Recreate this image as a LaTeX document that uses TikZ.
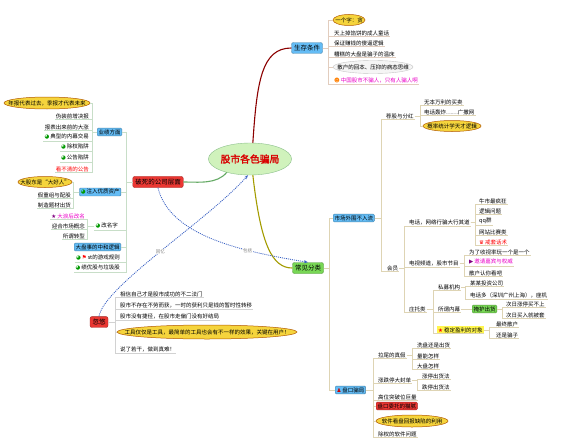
\documentclass[tikz,border=0pt]{standalone}
\usepackage{fontspec}
\setmainfont{Noto Sans CJK SC}[AutoFakeBold=2]
\newfontfamily\symfont{DejaVu Sans}
\usetikzlibrary{shapes.geometric, arrows.meta, positioning, calc}
\definecolor{mapblue}{RGB}{100,188,245}
\definecolor{mapred}{RGB}{235,55,50}
\definecolor{mapgreen}{RGB}{120,215,85}
\definecolor{mapyellow}{RGB}{245,212,60}
\definecolor{hubgreen}{RGB}{208,242,188}
\definecolor{rosetwig}{RGB}{226,205,190}
\definecolor{leaftwig}{RGB}{200,222,200}
\definecolor{tantwig}{RGB}{222,212,180}
\definecolor{dotblue}{RGB}{55,95,195}
\definecolor{hotpink}{RGB}{235,0,200}
\newcommand{\mapfont}{\fontsize{5.5}{6}\selectfont}
\newcommand{\bigmapfont}{\fontsize{6.5}{7}\selectfont}
\newcommand{\piemark}{{\symfont\textcolor{green!60!black}{◕}}\,}
\newcommand{\starmark}[1]{{\symfont\textcolor{#1}{★}}\,}
\newcommand{\crownmark}{{\symfont\textcolor{red}{♛}}\,}
\newcommand{\flagmark}{{\symfont\textcolor{red}{⚑}}\,}
\newcommand{\playmark}{{\symfont\textcolor{violet}{▶}}\,}
\newcommand{\smilemark}{{\symfont\textcolor{orange}{☻}}\,}
\newcommand{\usermark}{{\symfont\textcolor{red!80!black}{♟}}\,}

\begin{document}
\begin{tikzpicture}[x=1pt, y=-1pt,
    hub/.style={ellipse, draw=green!45!black!45, fill=hubgreen, text=red!85!black,
                font=\fontsize{9.8}{10}\selectfont\bfseries,
                minimum width=80pt, minimum height=32pt, inner sep=0pt},
    mainbox/.style={rectangle, rounded corners=2pt, draw=#1!70!black, fill=#1,
                    font=\bigmapfont, inner sep=2.5pt},
    subbox/.style={rectangle, rounded corners=1pt, draw=#1!70!black, fill=#1,
                   font=\mapfont, inner sep=1.3pt},
    leaf/.style={font=\mapfont, inner sep=1pt},
    ovalbg/.style={draw=orange!70!black, fill=mapyellow, line width=0.5pt},
    twig/.style={draw=#1, line width=0.6pt},
    branch/.style={draw=#1, line width=1.1pt},
    dotlink/.style={dotblue, line width=0.8pt, dash pattern=on 1pt off 1pt,
                    -{Stealth[length=4pt, open]}},
    linklbl/.style={font=\fontsize{4.5}{5}\selectfont, text=gray, fill=white, inner sep=0.5pt}]

\useasboundingbox[fill=white] (0,0) rectangle (572,444);

%% ── Centre ───────────────────────────────────────────────────────────────
\node[hub] (hub) at (250,159) {股市各色骗局};

%% ── Top branch ───────────────────────────────────────────────────────────
\node[mainbox=mapblue] (live) at (307,48) {生存条件};

\draw[ovalbg] (349,20) ellipse [x radius=16, y radius=5.5];
\node[leaf, minimum width=32pt] (live1) at (349,20) {一个字：贪};
\node[leaf, anchor=west] (live2) at (333,33) {天上掉馅饼的成人童话};
\node[leaf, anchor=west] (live3) at (333,43) {保证赚钱的傻逼逻辑};
\node[leaf, anchor=west] (live4) at (333,54) {糟糕的大盘是骗子的温床};
\draw[draw=gray!45, fill=gray!8] (373,67) ellipse [x radius=40, y radius=6.5];
\node[leaf, minimum width=80pt] (live5) at (373,67) {散户的回本、压抑的病态思维};
\node[leaf, anchor=west, text=hotpink] (live6) at (333,80)
    {\smilemark 中国股市不骗人，只有人骗人啊};

\draw[branch=red!55!black] (hub.80) .. controls +(4,-60) and +(-30,0) .. (live.west);
\foreach \c in {live1, live5}
  \draw[twig=rosetwig] (live.east) -- ++(6,0) |- (\c.west);
\foreach \c in {live2, live3, live4, live6}
  \draw[twig=rosetwig] (live.east) -- ++(6,0) |- (\c.south west) -- (\c.south east);

%% ── Left branch ──────────────────────────────────────────────────────────
\node[mainbox=mapred] (firm) at (158,182) {破死的公司层面};
\node[subbox=mapblue, anchor=east] (perf) at (122,132) {业绩方面};
\node[subbox=mapblue, anchor=east] (asset) at (121,192) {\piemark 注入优质资产};
\node[leaf, anchor=east] (rename) at (119,226) {\piemark 改名字};
\node[subbox=mapblue, anchor=east] (logic) at (121,247) {大盘事的中和逻辑};
\node[leaf, anchor=east] (stgame) at (121,258) {\piemark\flagmark st的游戏规则};
\node[leaf, anchor=east] (grade) at (121,268) {\piemark 绩优股与垃圾股};

\draw[branch=green!45!black!60] (hub.210) .. controls +(-10,12) and +(15,0) .. (firm.east);
\foreach \c in {perf, asset, logic}
  \draw[twig=leaftwig] (firm.west) -- ++(-6,0) |- (\c.east);
\foreach \c in {rename, stgame, grade}
  \draw[twig=leaftwig] (firm.west) -- ++(-6,0) |- (\c.south east) -- (\c.south west);

% results
\draw[ovalbg] (47,103) ellipse [x radius=43, y radius=6];
\node[leaf, minimum width=86pt] (perf1) at (47,103) {年报代表过去，季报才代表未来};
\node[leaf, anchor=east] (perf2) at (90,116) {伪装前增决报};
\node[leaf, anchor=east] (perf3) at (90,127) {报表出来前的大涨};
\node[leaf, anchor=east] (perf4) at (90,137) {\piemark 典型的内幕交易};
\node[leaf, anchor=east] (perf5) at (90,147) {\piemark 除权陷阱};
\node[leaf, anchor=east] (perf6) at (90,158) {\piemark 公告陷阱};
\node[leaf, anchor=east, text=red] (perf7) at (90,169) {看不清的公告};
\draw[twig=leaftwig] (perf.west) -- ++(-5,0) |- (perf1.east);
\foreach \c in {perf2, perf3, perf4, perf5, perf6, perf7}
  \draw[twig=leaftwig] (perf.west) -- ++(-5,0) |- (\c.south east) -- (\c.south west);

% assets
\draw[ovalbg] (45,182) ellipse [x radius=27, y radius=5.5];
\node[leaf, minimum width=54pt] (asset1) at (45,182) {大股东是“大好人”};
\node[leaf, anchor=east] (asset2) at (72,195) {假重组与配股};
\node[leaf, anchor=east] (asset3) at (72,205) {制造题材出货};
\draw[twig=leaftwig] (asset.west) -- ++(-6,0) |- (asset1.east);
\foreach \c in {asset2, asset3}
  \draw[twig=leaftwig] (asset.west) -- ++(-6,0) |- (\c.south east) -- (\c.south west);

% renaming
\node[leaf, anchor=east, text=hotpink] (rename1) at (86,216) {\starmark{violet}大浪后改名};
\node[leaf, anchor=east] (rename2) at (86,226) {迎合市场概念};
\node[leaf, anchor=east] (rename3) at (86,236) {所谓转型};
\foreach \c in {rename1, rename2, rename3}
  \draw[twig=leaftwig] (rename.west) -- ++(-7,0) |- (\c.south east) -- (\c.south west);

%% ── Bottom left ──────────────────────────────────────────────────────────
\node[mainbox=mapred] (fool) at (99,322) {忽悠};
\node[leaf, anchor=west] (fool1) at (119,294) {相信自己才是股市成功的不二法门};
\node[leaf, anchor=west] (fool2) at (119,305) {股市不存在不劳而获，一时的获利只是钱的暂时性转移};
\node[leaf, anchor=west] (fool3) at (119,316) {股市没有捷径，在股市走偏门没有好结局};
\draw[ovalbg] (207,332) ellipse [x radius=90, y radius=7];
\node[leaf, minimum width=180pt] (fool4) at (207,332)
    {工具仅仅是工具，最简单的工具也会有不一样的效果，关键在用户！};
\node[leaf, anchor=west] (fool5) at (119,349) {说了若干，做到真难！};
\foreach \c in {fool1, fool2, fool3, fool5}
  \draw[twig=gray!35] (fool.east) -- ++(7,0) |- (\c.south west) -- (\c.south east);
\draw[twig=gray!35] (fool.east) -- ++(7,0) |- (fool4.west);

%% ── Right branch ─────────────────────────────────────────────────────────
\node[mainbox=mapgreen] (cls) at (308,268) {常见分类};
\draw[branch=olive!80!yellow] (hub.-80) .. controls +(8,70) and +(-20,0) .. (cls.west);

\node[subbox=mapblue, anchor=west] (outer) at (333,218) {市场外围不入流};
\node[subbox=mapblue, anchor=west] (tape) at (335,390) {\usermark 盘口骗局};
\foreach \c in {outer, tape}
  \draw[twig=tantwig] (cls.east) -- ++(6,0) |- (\c.west);

% outer circle
\node[leaf, anchor=west] (tips) at (385,116) {荐股与分红};
\node[leaf, anchor=west] (club) at (386,268) {会员};
\foreach \c in {tips, club}
  \draw[twig=tantwig] (outer.east) -- ++(7,0) |- (\c.south west) -- (\c.south east);

\node[leaf, anchor=west] (tips1) at (423,102) {无本万利的买卖};
\node[leaf, anchor=west] (tips2) at (423,112) {电话轰炸……广撒网};
\draw[ovalbg] (452,126) ellipse [x radius=29, y radius=5.5];
\node[leaf, minimum width=58pt] (tips3) at (452,126) {概率统计学天才逻辑};
\foreach \c in {tips1, tips2}
  \draw[twig=tantwig] (tips.east) -- ++(5,0) |- (\c.south west) -- (\c.south east);
\draw[twig=tantwig] (tips.east) -- ++(5,0) |- (tips3.west);

\node[leaf, anchor=west] (club1) at (408,222) {电话，网络行骗大行其道};
\node[leaf, anchor=west] (club2) at (408,263) {电视频道，股市节目};
\node[leaf, anchor=west] (club3) at (408,309) {庄托类};
\foreach \c in {club1, club2, club3}
  \draw[twig=tantwig] (club.east) -- ++(5,0) |- (\c.south west) -- (\c.south east);

\node[leaf, anchor=west] (phone1) at (478,201) {牛市最疯狂};
\node[leaf, anchor=west] (phone2) at (478,211) {逻辑问题};
\node[leaf, anchor=west] (phone3) at (478,221) {qq群};
\node[leaf, anchor=west] (phone4) at (478,232) {网站比赛类};
\node[leaf, anchor=west, text=red] (phone5) at (478,242) {\crownmark 戒套话术};
\foreach \c in {phone1, phone2, phone3, phone4, phone5}
  \draw[twig=tantwig] (club1.east) -- ++(4,0) |- (\c.south west) -- (\c.south east);

\node[leaf, anchor=west] (tv1) at (468,252) {为了收视率玩一个是一个};
\node[leaf, anchor=west, text=hotpink] (tv2) at (468,262) {\playmark 邀请嘉宾与权威};
\node[leaf, anchor=west] (tv3) at (468,273) {散户认你看吧};
\foreach \c in {tv1, tv2, tv3}
  \draw[twig=tantwig] (club2.east) -- ++(4,0) |- (\c.south west) -- (\c.south east);

% dealers
\node[leaf, anchor=west] (fund) at (437,287) {私募机构};
\node[leaf, anchor=west] (inside) at (437,309) {所谓内幕};
\node[leaf, anchor=west, fill=yellow!70] (prey) at (437,330) {\starmark{red}稳定盈利的对象};
\foreach \c in {fund, inside, prey}
  \draw[twig=tantwig] (club3.east) -- ++(6,0) |- (\c.south west) -- (\c.south east);

\node[leaf, anchor=west] (fund1) at (469,283) {某某投资公司};
\node[leaf, anchor=west] (fund2) at (469,295) {电话多（深圳广州上海），座机};
\foreach \c in {fund1, fund2}
  \draw[twig=tantwig] (fund.east) -- ++(4,0) |- (\c.south west) -- (\c.south east);

\node[subbox=mapgreen, anchor=west] (cover) at (472,309) {掩护出货};
\draw[twig=tantwig] (inside.east) -- (cover.west);
\node[leaf, anchor=west] (cover1) at (505,304) {次日涨停买不上};
\node[leaf, anchor=west] (cover2) at (505,315) {次日买入就被套};
\foreach \c in {cover1, cover2}
  \draw[twig=tantwig] (cover.east) -- ++(5,0) |- (\c.south west) -- (\c.south east);

\node[leaf, anchor=west] (prey1) at (495,324) {最终散户};
\node[leaf, anchor=west] (prey2) at (495,335) {还是骗子};
\foreach \c in {prey1, prey2}
  \draw[twig=tantwig] (prey.east) -- ++(6,0) |- (\c.south west) -- (\c.south east);

% tape tricks
\node[leaf, anchor=west] (tail) at (377,355) {拉尾的真假};
\node[leaf, anchor=west] (limit) at (377,380) {涨跌停大封单};
\node[leaf, anchor=west] (volume) at (377,397) {高位突破位巨量};
\node[subbox=mapred, anchor=west] (entrust) at (376,406) {盘口委托的猫腻};
\draw[ovalbg] (412,421) ellipse [x radius=36, y radius=6];
\node[leaf, minimum width=72pt] (soft) at (412,421) {软件看盘回报缺陷的利用};
\node[leaf, anchor=west] (exright) at (377,434) {除权的软件问题};
\foreach \c in {tail, limit, volume, exright}
  \draw[twig=tantwig] (tape.east) -- ++(7,0) |- (\c.south west) -- (\c.south east);
\foreach \c in {entrust, soft}
  \draw[twig=tantwig] (tape.east) -- ++(7,0) |- (\c.west);

\node[leaf, anchor=west] (tail1) at (416,345) {洗盘还是出货};
\node[leaf, anchor=west] (tail2) at (416,356) {量能怎样};
\node[leaf, anchor=west] (tail3) at (416,366) {大盘怎样};
\foreach \c in {tail1, tail2, tail3}
  \draw[twig=tantwig] (tail.east) -- ++(5,0) |- (\c.south west) -- (\c.south east);

\node[leaf, anchor=west] (limit1) at (421,376) {涨停出货法};
\node[leaf, anchor=west] (limit2) at (421,387) {跌停出货法};
\foreach \c in {limit1, limit2}
  \draw[twig=tantwig] (limit.east) -- ++(5,0) |- (\c.south west) -- (\c.south east);

%% ── Cross links ──────────────────────────────────────────────────────────
\draw[dotlink] (fool.north) .. controls +(5,-30) and +(-40,45) .. (hub.-97)
    node[linklbl, pos=0.5] {回忆};
\draw[dotlink] (firm.south) .. controls +(12,50) and +(-60,-10) .. (cls.north)
    node[linklbl, pos=0.68] {包括};

\end{tikzpicture}
\end{document}
